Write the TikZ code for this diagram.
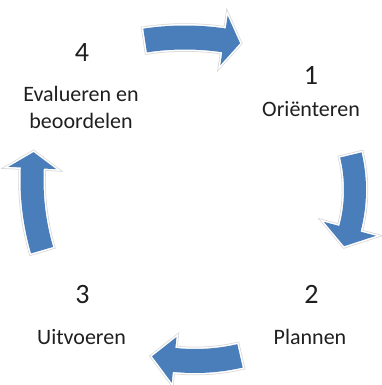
\documentclass[tikz,border=0pt]{standalone}
\usepackage{fontspec}
\setmainfont{Carlito}
\definecolor{arrowblue}{RGB}{74,126,187}
\definecolor{glowgray}{RGB}{215,215,215}
\tikzset{
  cyclearrow/.style={fill=arrowblue, line join=round,
    preaction={draw=glowgray, line width=4.5pt},
    preaction={draw=white, line width=3pt}},
  numlabel/.style={font=\fontsize{28}{32}\selectfont, text=black!88, anchor=base, inner sep=0pt},
  steplabel/.style={font=\fontsize{22}{27}\selectfont, text=black!88, anchor=base, inner sep=0pt, align=center}
}
% #1 cx, #2 cy, #3 R, #4 tail angle, #5 head base angle, #6 tip angle, #7 half shaft, #8 half head
\newcommand\cyclearrowpath[8]{%
  \path[cyclearrow]
    ([shift={(#1,#2)}]#4:{#3+#7}) arc[start angle=#4, end angle=#5, radius={(#3+#7)*1pt}]
    -- ([shift={(#1,#2)}]#5:{#3+#8})
    -- ([shift={(#1,#2)}]#6:{#3})
    -- ([shift={(#1,#2)}]#5:{#3-#8})
    -- ([shift={(#1,#2)}]#5:{#3-#7}) arc[start angle=#5, end angle=#4, radius={(#3-#7)*1pt}]
    -- cycle;}
\begin{document}
\begin{tikzpicture}[x=1pt,y=1pt]
\useasboundingbox (0,0) rectangle (382,385);
% arrows
\cyclearrowpath{185}{80.5}{267}{98.6}{81.6}{78.1}{12}{25}
\cyclearrowpath{205}{195}{150}{13.5}{-15}{-22}{11}{27}
\cyclearrowpath{195}{224}{200}{-77}{-96}{-102.4}{12}{23}
\cyclearrowpath{282}{205}{250}{196.3}{177.25}{173.6}{11.5}{24}
% labels
\node[numlabel] (n4) at (82,323) {4};
\node[steplabel] (t4) at (81,256) {Evalueren en\\beoordelen};
\node[numlabel] (n1) at (311,300) {1};
\node[steplabel] (t1) at (311,268) {Oriënteren};
\node[numlabel] (n2) at (311.5,81) {2};
\node[steplabel] (t2) at (310,40) {Plannen};
\node[numlabel] (n3) at (82.5,81.7) {3};
\node[steplabel] (t3) at (81.5,40) {Uitvoeren};
\end{tikzpicture}
\end{document}
